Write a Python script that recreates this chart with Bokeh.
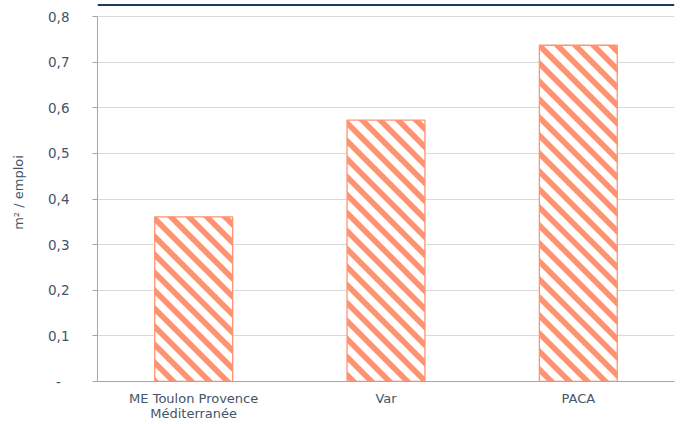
import math
from bokeh.plotting import figure
from bokeh.models import (FactorRange, Range1d, FixedTicker, CustomJSTickFormatter,
                          ColumnDataSource, Span)
from bokeh.embed import file_html
from bokeh.resources import INLINE

categories = ["ME Toulon Provence\nMéditerranée", "Var", "PACA"]
values = [0.361, 0.573, 0.737]
y_ticks = [0, 0.1, 0.2, 0.3, 0.4, 0.5, 0.6, 0.7, 0.8]
y_title = "m² / emploi"

W, H = 675, 424
BL, BR, BT, BB = 97, 1, 3, 43
Y_MAX = 0.8            # top of the value axis
AXIS_PX = 365          # pixel height of the value axis (0 .. Y_MAX)
BAR_W = 0.405
SALMON = "#FF9270"

frame_w = W - BL - BR
frame_h = H - BT - BB
sx = frame_w / len(categories)
sy = AXIS_PX / Y_MAX
y_end = frame_h / sy   # frame extends a little above the axis (header rule lives there)

src = ColumnDataSource(dict(cat=categories, val=values))

p = figure(x_range=FactorRange(*categories, range_padding=0), y_range=Range1d(0, y_end),
           width=W, height=H, output_backend="svg", toolbar_location=None,
           min_border_left=BL, min_border_right=BR, min_border_top=BT, min_border_bottom=BB)
p.outline_line_color = None
p.background_fill_color = "white"

# white bar bodies
p.vbar(x="cat", top="val", width=BAR_W, source=src, fill_color="white", line_color=None)

# 45-degree "\" hatch fill, computed in screen pixels from the bar values
PERIOD = 18.0   # horizontal period of the stripes, px
BAND = 8.0      # horizontal width of a coloured stripe, px


def clip(poly, a, b, c):
    out = []
    n = len(poly)
    for i in range(n):
        P, Q = poly[i], poly[(i + 1) % n]
        fp = a * P[0] + b * P[1] + c
        fq = a * Q[0] + b * Q[1] + c
        if fp >= 0:
            out.append(P)
        if (fp >= 0) != (fq >= 0):
            t = fp / (fp - fq)
            out.append((P[0] + t * (Q[0] - P[0]), P[1] + t * (Q[1] - P[1])))
    return out


hx, hy = [], []
for i, v in enumerate(values):
    x0 = (i + 0.5 - BAR_W / 2) * sx
    x1 = (i + 0.5 + BAR_W / 2) * sx
    y1 = v * sy
    rect = [(x0, 0.0), (x1, 0.0), (x1, y1), (x0, y1)]
    kmin = int(math.floor(x0 / PERIOD)) - 1
    kmax = int(math.ceil((x1 + y1) / PERIOD)) + 1
    for k in range(kmin, kmax + 1):
        c = k * PERIOD
        poly = clip(rect, 1, 1, -c)              # x + y >= c
        if len(poly) < 3:
            continue
        poly = clip(poly, -1, -1, c + BAND)      # x + y <= c + BAND
        if len(poly) < 3:
            continue
        hx.append([pt[0] / sx for pt in poly])
        hy.append([pt[1] / sy for pt in poly])

p.patches(hx, hy, fill_color=SALMON, line_color=None)

# bar outlines
p.vbar(x="cat", top="val", width=BAR_W, source=src, fill_color=None,
       line_color=SALMON, line_width=1.3)

text_color = "#44546A"
font = "DejaVu Sans"

p.xgrid.grid_line_color = None
p.ygrid.grid_line_color = "#D9D9D9"
p.ygrid.grid_line_width = 1

p.yaxis.ticker = FixedTicker(ticks=y_ticks)
p.yaxis.bounds = (0, Y_MAX)
p.yaxis.formatter = CustomJSTickFormatter(code="""
if (Math.abs(tick) < 1e-9) { return "-\\u00a0\\u00a0"; }
return tick.toFixed(1).replace(".", ",");
""")
p.yaxis.axis_label = y_title
p.yaxis.axis_label_text_font = font
p.yaxis.axis_label_text_font_size = "13px"
p.yaxis.axis_label_text_font_style = "normal"
p.yaxis.axis_label_text_color = text_color
p.yaxis.axis_label_standoff = 19
p.yaxis.major_label_text_font = font
p.yaxis.major_label_text_font_size = "13.5px"
p.yaxis.major_label_text_color = text_color
p.yaxis.major_label_standoff = 23
p.yaxis.major_tick_out = 5
p.yaxis.major_tick_in = 0
p.yaxis.minor_tick_out = 0
p.yaxis.minor_tick_in = 0
p.yaxis.axis_line_color = "#A6A6A6"
p.yaxis.major_tick_line_color = "#A6A6A6"

p.xaxis.major_label_text_font = font
p.xaxis.major_label_text_font_size = "13px"
p.xaxis.major_label_text_color = text_color
p.xaxis.major_label_standoff = 9
p.xaxis.major_tick_out = 0
p.xaxis.major_tick_in = 0
p.xaxis.major_tick_line_color = None
p.xaxis.axis_line_color = "#A6A6A6"
p.xaxis.major_label_text_line_height = 1.05

# header rule above the plot area
p.add_layout(Span(location=(frame_h - 1.5) / sy, dimension="width",
                  line_color="#1F3864", line_width=2))

open("out.html", "w").write(file_html(p, INLINE))
